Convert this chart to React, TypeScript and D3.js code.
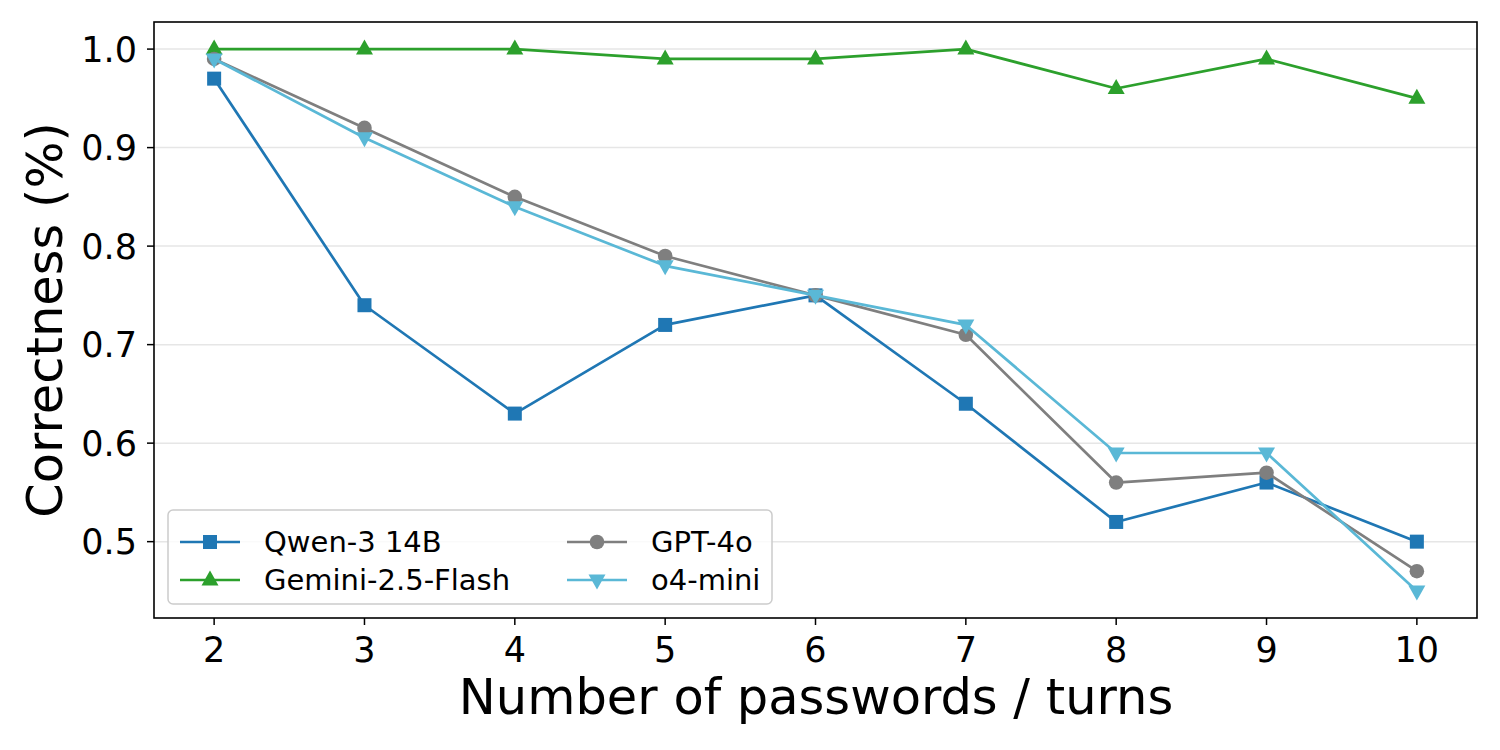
import React from "react";
import * as d3 from "d3";

const xValues = [2, 3, 4, 5, 6, 7, 8, 9, 10];
const qwen = [0.97, 0.74, 0.63, 0.72, 0.75, 0.64, 0.52, 0.56, 0.5];
const gemini = [1.0, 1.0, 1.0, 0.99, 0.99, 1.0, 0.96, 0.99, 0.95];
const gpt4o = [0.99, 0.92, 0.85, 0.79, 0.75, 0.71, 0.56, 0.57, 0.47];
const o4mini = [0.99, 0.91, 0.84, 0.78, 0.75, 0.72, 0.59, 0.59, 0.45];
const yTicks = [0.5, 0.6, 0.7, 0.8, 0.9, 1.0];

const seriesNames = ["Qwen-3 14B", "Gemini-2.5-Flash", "GPT-4o", "o4-mini"];
const seriesValues = [qwen, gemini, gpt4o, o4mini];
const seriesColors = ["#1f77b4", "#2ca02c", "#7f7f7f", "#5ab8d6"];
const seriesMarkers = ["square", "triangle-up", "circle", "triangle-down"];

const W = 1500;
const H = 750;
const L = 154, R = 1477, T = 22, B = 618;
const FONT = "'DejaVu Sans', sans-serif";

function Marker({ type, x, y, color }: { type: string; x: number; y: number; color: string }) {
  if (type === "square") return <rect x={x - 7} y={y - 7} width={14} height={14} fill={color} />;
  if (type === "circle") return <circle cx={x} cy={y} r={7.3} fill={color} />;
  if (type === "triangle-up")
    return <path d={`M${x},${y - 9.5} L${x + 8.5},${y + 5.5} L${x - 8.5},${y + 5.5} Z`} fill={color} />;
  return <path d={`M${x},${y + 9.5} L${x + 8.5},${y - 5.5} L${x - 8.5},${y - 5.5} Z`} fill={color} />;
}

export default function App() {
  const x = d3.scaleLinear().domain([1.6, 10.4]).range([L, R]);
  const y = d3.scaleLinear().domain([0.4225, 1.0275]).range([B, T]);
  const line = d3
    .line<number>()
    .x((_, i) => x(xValues[i]))
    .y((d) => y(d));

  const legendX = 168, legendY = 510, legendW = 604, legendH = 94;
  const rowY = [542, 580];
  const colX = [180, 567];

  return (
    <svg width={W} height={H} style={{ position: "absolute", left: 0, top: 0, background: "#fff" }} fontFamily={FONT}>
      <rect x={0} y={0} width={W} height={H} fill="#fff" />
      {yTicks.map((t) => (
        <line key={"g" + t} x1={L} x2={R} y1={y(t)} y2={y(t)} stroke="#e6e6e6" strokeWidth={1.5} />
      ))}
      {seriesValues.map((vals, si) => (
        <g key={si}>
          <path d={line(vals) || ""} fill="none" stroke={seriesColors[si]} strokeWidth={2.7} strokeLinejoin="round" />
          {vals.map((v, i) => (
            <Marker key={i} type={seriesMarkers[si]} x={x(xValues[i])} y={y(v)} color={seriesColors[si]} />
          ))}
        </g>
      ))}
      <rect x={L} y={T} width={R - L} height={B - T} fill="none" stroke="#000" strokeWidth={1.6} />
      {yTicks.map((t) => (
        <g key={"y" + t}>
          <line x1={L - 7} x2={L} y1={y(t)} y2={y(t)} stroke="#000" strokeWidth={1.5} />
          <text x={137} y={y(t)} dy="0.36em" textAnchor="end" fontSize={35} fill="#000">
            {t.toFixed(1)}
          </text>
        </g>
      ))}
      {xValues.map((t) => (
        <g key={"x" + t}>
          <line x1={x(t)} x2={x(t)} y1={B} y2={B + 7} stroke="#000" strokeWidth={1.5} />
          <text x={x(t)} y={662} textAnchor="middle" fontSize={35} fill="#000">
            {t}
          </text>
        </g>
      ))}
      <text x={816} y={714} textAnchor="middle" fontSize={49.5} fill="#000">
        Number of passwords / turns
      </text>
      <text transform={`translate(62,${(T + B) / 2}) rotate(-90)`} textAnchor="middle" fontSize={49.5} fill="#000">
        Correctness (%)
      </text>
      <rect x={legendX} y={legendY} width={legendW} height={legendH} rx={5} fill="#fff" fillOpacity={0.8} stroke="#cccccc" strokeWidth={1.5} />
      {seriesNames.map((name, si) => {
        const col = Math.floor(si / 2);
        const row = si % 2;
        const lx = colX[col];
        const ly = rowY[row];
        return (
          <g key={name}>
            <line x1={lx} x2={lx + 60} y1={ly} y2={ly} stroke={seriesColors[si]} strokeWidth={2.7} />
            <Marker type={seriesMarkers[si]} x={lx + 30} y={ly} color={seriesColors[si]} />
            <text x={lx + 84} y={ly} dy="0.36em" fontSize={29} fill="#000">
              {name}
            </text>
          </g>
        );
      })}
    </svg>
  );
}
